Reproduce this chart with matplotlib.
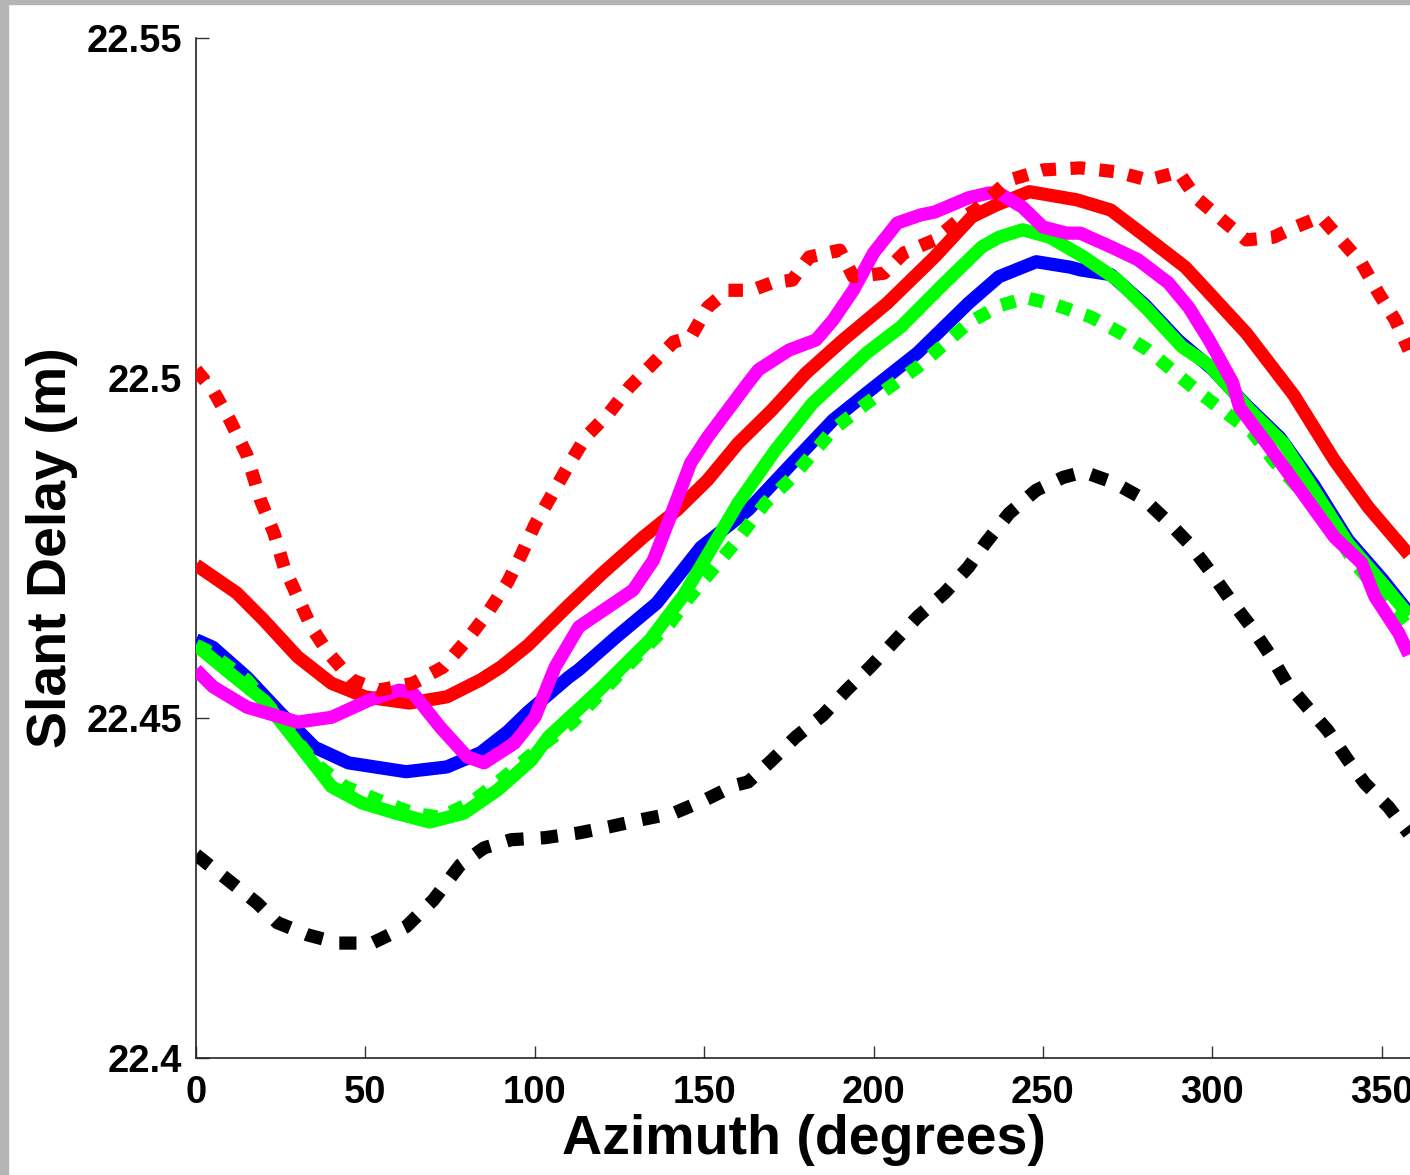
import numpy as np
import matplotlib
matplotlib.use('Agg')
import matplotlib.pyplot as plt
from matplotlib.patches import Rectangle

# ---- data (azimuth in degrees, slant delay in m) ----
red_az = [0, 12, 20, 30, 40, 50, 63, 74, 84, 90, 98, 110, 120, 132, 142, 151, 160, 170,
          180, 191, 204, 218, 229, 236, 246, 260, 270, 279, 292, 310, 324, 336, 346, 358]
red_val = [22.4725, 22.4684, 22.4644, 22.4590, 22.4551, 22.4531, 22.4522, 22.4531, 22.4556,
           22.4575, 22.4607, 22.4666, 22.4713, 22.4766, 22.4806, 22.4850, 22.4904, 22.4953,
           22.5007, 22.5056, 22.5110, 22.5178, 22.5237, 22.5254, 22.5274, 22.5262, 22.5247,
           22.5213, 22.5163, 22.5066, 22.4975, 22.4879, 22.4810, 22.4740]

red_dot_az = [0, 5, 10, 15, 19, 23, 26, 30, 34, 39, 46, 54, 64, 73, 80, 86, 92, 96, 100,
              110, 115, 122, 128, 135, 141, 146, 151, 157, 164, 170, 176, 181, 190, 194,
              203, 209, 218, 225, 230, 240, 250, 261, 272, 281, 290, 295, 303, 310, 318,
              324, 332, 338, 344, 349, 354, 358]
red_dot_val = [22.5012, 22.4982, 22.4938, 22.4887, 22.4821, 22.4772, 22.4722, 22.4678,
               22.4634, 22.4596, 22.4556, 22.4541, 22.4551, 22.4575, 22.4615, 22.4654,
               22.4700, 22.4740, 22.4784, 22.4872, 22.4913, 22.4949, 22.4987, 22.5022,
               22.5053, 22.5060, 22.5104, 22.5129, 22.5129, 22.5140, 22.5144, 22.5178,
               22.5188, 22.5149, 22.5154, 22.5184, 22.5203, 22.5232, 22.5247, 22.5291,
               22.5306, 22.5309, 22.5303, 22.5291, 22.5303, 22.5266, 22.5232, 22.5203,
               22.5207, 22.5221, 22.5237, 22.5203, 22.5169, 22.5125, 22.5085, 22.5041]

mag_az = [0, 5, 15, 30, 40, 51, 60, 64, 72, 80, 85, 94, 100, 106, 113, 129, 135, 140, 146,
          151, 163, 166, 175, 183, 188, 194, 200, 207, 214, 218, 228, 234, 237, 244, 250,
          257, 261, 270, 278, 287, 293, 299, 306, 308, 316, 326, 336, 344, 348, 355, 358]
mag_val = [22.4571, 22.4546, 22.4516, 22.4494, 22.4501, 22.4526, 22.4541, 22.4537, 22.4487,
           22.4443, 22.4434, 22.4463, 22.4501, 22.4575, 22.4634, 22.4688, 22.4732, 22.4796,
           22.4875, 22.4913, 22.4993, 22.5012, 22.5041, 22.5056, 22.5085, 22.5129, 22.5184,
           22.5228, 22.5240, 22.5244, 22.5265, 22.5272, 22.5272, 22.5251, 22.5222, 22.5213,
           22.5213, 22.5193, 22.5174, 22.5140, 22.5104, 22.5056, 22.4993, 22.4957, 22.4904,
           22.4835, 22.4766, 22.4728, 22.4678, 22.4625, 22.4593]

blue_az = [0, 5, 15, 25, 35, 45, 62, 74, 84, 92, 98, 110, 113, 124, 136, 149, 163, 176,
           188, 198, 213, 228, 237, 248, 258, 261, 270, 280, 290, 300, 310, 320, 330, 340,
           350, 358]
blue_val = [22.4615, 22.4604, 22.4560, 22.4507, 22.4457, 22.4434, 22.4421, 22.4428, 22.4449,
            22.4480, 22.4509, 22.4560, 22.4571, 22.4619, 22.4669, 22.4751, 22.4806,
            22.4875, 22.4938, 22.4978, 22.5037, 22.5110, 22.5149, 22.5171, 22.5163, 22.5159,
            22.5152, 22.5108, 22.5055, 22.5013, 22.4960, 22.4912, 22.4842, 22.4762, 22.4705,
            22.4655]

green_az = [0, 10, 20, 30, 40, 49, 59, 69, 79, 89, 99, 104, 119, 134, 144, 160, 171, 182,
            198, 208, 221, 232, 237, 244, 252, 262, 272, 281, 291, 299, 311, 321, 330, 340,
            350, 358]
green_val = [22.4607, 22.4566, 22.4526, 22.4463, 22.4399, 22.4375, 22.4360, 22.4347, 22.4360,
             22.4394, 22.4438, 22.4472, 22.4541, 22.4615, 22.4681, 22.4816, 22.4894, 22.4963,
             22.5037, 22.5075, 22.5140, 22.5193, 22.5207, 22.5218, 22.5207, 22.5178, 22.5144,
             22.5100, 22.5046, 22.5019, 22.4953, 22.4904, 22.4835, 22.4757, 22.4699, 22.4651]

green_dot_az = [0, 3, 15, 25, 35, 44, 54, 64, 72, 81, 90, 103, 111, 124, 132, 140, 145, 159,
                168, 176, 188, 198, 213, 220, 228, 237, 245, 254, 264, 273, 281, 288, 296,
                304, 312, 318, 326, 336, 342, 350, 358]
green_dot_val = [22.4607, 22.4600, 22.4556, 22.4497, 22.4434, 22.4399, 22.4379, 22.4360,
                 22.4354, 22.4375, 22.4409, 22.4463, 22.4493, 22.4560, 22.4600, 22.4640,
                 22.4674, 22.4757, 22.4816, 22.4854, 22.4924, 22.4963, 22.5016, 22.5046,
                 22.5081, 22.5106, 22.5118, 22.5107, 22.5090, 22.5066, 22.5041, 22.5012,
                 22.4979, 22.4949, 22.4919, 22.4879, 22.4835, 22.4776, 22.4728, 22.4681,
                 22.4632]

black_az = [0, 18, 24, 33, 42, 52, 62, 70, 78, 85, 93, 103, 113, 122, 131, 141, 150, 159,
            163, 170, 177, 185, 192, 199, 206, 213, 221, 228, 233, 240, 248, 256, 262, 271,
            280, 287, 293, 299, 305, 311, 317, 322, 328, 334, 340, 345, 352, 358]
black_val = [22.4299, 22.4228, 22.4199, 22.4181, 22.4169, 22.4169, 22.4193, 22.4232, 22.4284,
             22.4309, 22.4321, 22.4324, 22.4331, 22.4340, 22.4350, 22.4360, 22.4379, 22.4401,
             22.4406, 22.4438, 22.4472, 22.4504, 22.4541, 22.4575, 22.4612, 22.4649, 22.4684,
             22.4722, 22.4757, 22.4801, 22.4835, 22.4854, 22.4862, 22.4846, 22.4821, 22.4788,
             22.4757, 22.4718, 22.4676, 22.4637, 22.4593, 22.4551, 22.4516, 22.4482, 22.4438,
             22.4404, 22.4369, 22.4330]

x_ticks = [0, 50, 100, 150, 200, 250, 300, 350]
y_ticks = [22.4, 22.45, 22.5, 22.55]
y_tick_labels = ['22.4', '22.45', '22.5', '22.55']

# ---- figure ----
plt.rcParams['font.family'] = ['Liberation Sans', 'DejaVu Sans']
plt.rcParams['font.weight'] = 'bold'

fig = plt.figure(figsize=(14.1, 11.75), dpi=100)
# axes: 0 deg at x=196px, 50 deg step = 169.4px; y 22.55 at 38px, 22.4 at 1058px
ax = fig.add_axes([196 / 1410, 117 / 1175, 360 * 3.388 / 1410, 1020 / 1175])

lw = 9.5
solid = dict(lw=lw, solid_capstyle='butt', solid_joinstyle='round')
dotted = dict(lw=lw, dash_capstyle='butt', dash_joinstyle='round')
ax.plot(black_az, black_val, color='black', linestyle=(0, (1.3, 1.3)), zorder=2, **dotted)
ax.plot(blue_az, blue_val, color='#0000ff', zorder=3, **solid)
ax.plot(green_az, green_val, color='#00ff00', zorder=4, **solid)
ax.plot(green_dot_az, green_dot_val, color='#00ff00', linestyle=(0, (1.1, 1.1)),
        zorder=5, **dotted)
ax.plot(red_az, red_val, color='#ff0000', zorder=6, **solid)
ax.plot(mag_az, mag_val, color='#ff00ff', zorder=7, **solid)
ax.plot(red_dot_az, red_dot_val, color='#ff0000', linestyle=(0, (1.1, 1.1)),
        zorder=8, **dotted)

ax.set_xlim(0, 360)
ax.set_ylim(22.4, 22.55)
ax.set_xticks(x_ticks)
ax.set_yticks(y_ticks)
ax.set_yticklabels(y_tick_labels)

for s in ['top', 'right']:
    ax.spines[s].set_visible(False)
for s in ['left', 'bottom']:
    ax.spines[s].set_linewidth(1.2)
    ax.spines[s].set_color('#222222')

ax.tick_params(direction='in', length=9, width=1.0, color='#333333',
               labelsize=27.5, pad=10)
ax.tick_params(axis='x', pad=12)
for lab in ax.get_xticklabels() + ax.get_yticklabels():
    lab.set_fontweight('bold')

ax.set_xlabel('Azimuth (degrees)', fontsize=40, fontweight='bold')
ax.set_ylabel('Slant Delay (m)', fontsize=40, fontweight='bold')
ax.xaxis.set_label_coords(0.4985, -0.055)
ax.yaxis.set_label_coords(-0.097, 0.5)

# grey window edges seen in the reference
fig.patches.append(Rectangle((0, 0), 8 / 1410, 1, transform=fig.transFigure,
                             color='#b4b4b4', zorder=10))
fig.patches.append(Rectangle((0, 1 - 4 / 1175), 1, 4 / 1175, transform=fig.transFigure,
                             color='#b4b4b4', zorder=10))

fig.savefig('out.png', dpi=100)
